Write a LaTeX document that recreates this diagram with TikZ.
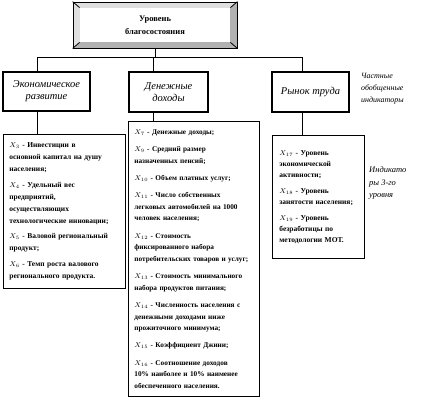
\documentclass[tikz,border=0pt]{standalone}
\usepackage{fontspec}
\setmainfont{Liberation Serif}
\usetikzlibrary{calc}
\tikzset{link/.style={line width=.8bp},
lvlbox/.style={draw,line width=1.6bp,align=center,inner sep=1bp,font=\fontsize{10.5}{12}\selectfont\itshape},
listbox/.style={draw,line width=.8bp,anchor=north west,align=left,inner ysep=0pt,font=\fontsize{7.5}{12}\selectfont\bfseries},
sidenote/.style={anchor=north west,align=left,inner sep=0pt,font=\fontsize{8}{12}\selectfont\itshape}}
\newcommand{\xind}[1]{$X_{#1}$}

\begin{document}
\begin{tikzpicture}[x=1bp,y=-1bp]
\useasboundingbox (0,0) rectangle (445,400);
% header: bevelled frame
\fill[gray!25] (73,2)--(237,2)--(230,8)--(80,8)--(80,42)--(73,48)--cycle;
\fill[gray!60] (237,2)--(237,48)--(73,48)--(80,42)--(230,42)--(230,8)--cycle;
\node[draw,line width=.8bp,minimum width=164bp,minimum height=46bp] (frame) at (155,25){};
\draw[link] (frame.north west)--++(7,6) (frame.north east)--++(-7,6) (frame.south west)--++(7,-6) (frame.south east)--++(-7,-6);
\node[draw,line width=.7bp,double,double distance=1.2bp,fill=white,minimum width=148bp,minimum height=32bp,align=center,font=\fontsize{8.5}{13}\selectfont\bfseries] (title) at (155,25){Уровень\\благосостояния};
% second level
\node[lvlbox,minimum width=87bp,minimum height=39bp] (econ) at (46.5,91.5){Экономическое\\развитие};
\node[lvlbox,minimum width=79bp,minimum height=40bp] (money) at (168.5,92){Денежные\\доходы};
\node[lvlbox,minimum width=77bp,minimum height=40bp] (labour) at (310.5,92){Рынок труда};
\node[sidenote] (partial) at (361,73){Частные\\обобщенные\\индикаторы};
% third level
\node[listbox,inner xsep=6bp,text width=110bp,minimum height=154bp] (econList) at (3,134){\xind{3} - Инвестиции в\\основной капитал на душу\\населения;\\[4bp]
\xind{4} - Удельный вес\\предприятий,\\осуществляющих\\технологические инновации;\\[4bp]
\xind{5} - Валовой региональный\\продукт;\\[4bp]
\xind{6} - Темп роста валового\\регионального продукта.};
\node[listbox,inner xsep=6bp,text width=119bp,minimum height=275bp,font=\fontsize{7.3}{11.5}\selectfont\bfseries] (moneyList) at (128,121){\xind{7} - Денежные доходы;\\[6bp]
\xind{9} - Средний размер\\назначенных пенсий;\\[6bp]
\xind{10} - Объем платных услуг;\\[6bp]
\xind{11} - Число собственных\\легковых автомобилей на 1000\\человек населения;\\[6bp]
\xind{12} - Стоимость\\фиксированного набора\\потребительских товаров и услуг;\\[6bp]
\xind{13} - Стоимость минимального\\набора продуктов питания;\\[6bp]
\xind{14} - Численность населения с\\денежными доходами ниже\\прожиточного минимума;\\[6bp]
\xind{15} - Коэффициент Джини;\\[6bp]
\xind{16} - Соотношение доходов\\10\% наиболее и 10\% наименее\\обеспеченного населения.};
\node[listbox,inner xsep=7bp,text width=78bp,minimum height=123bp,font=\fontsize{7.5}{11}\selectfont\bfseries] (labourList) at (272,135){\xind{17} - Уровень\\экономической\\активности;\\[5bp]
\xind{18} - Уровень\\занятости населения;\\[5bp]
\xind{19} - Уровень\\безработицы по\\методологии МОТ.};
\node[sidenote,font=\fontsize{8.5}{13}\selectfont\itshape] (third) at (369,166){Индикато\\ры 3-го\\уровня};
% connectors
\coordinate (busL) at (37,57);\coordinate (busM) at (153,57);\coordinate (busR) at (302,57);
\draw[link] (frame.south)--(frame.south |- busL) (busL)--(busR);
\foreach \j/\b in {busL/econ,busM/money,busR/labour}{\draw[link] (\j)--(\j |- \b.north);\draw[link] (\j |- \b.south)--(\j |- \b List.north);}
\end{tikzpicture}
\end{document}
